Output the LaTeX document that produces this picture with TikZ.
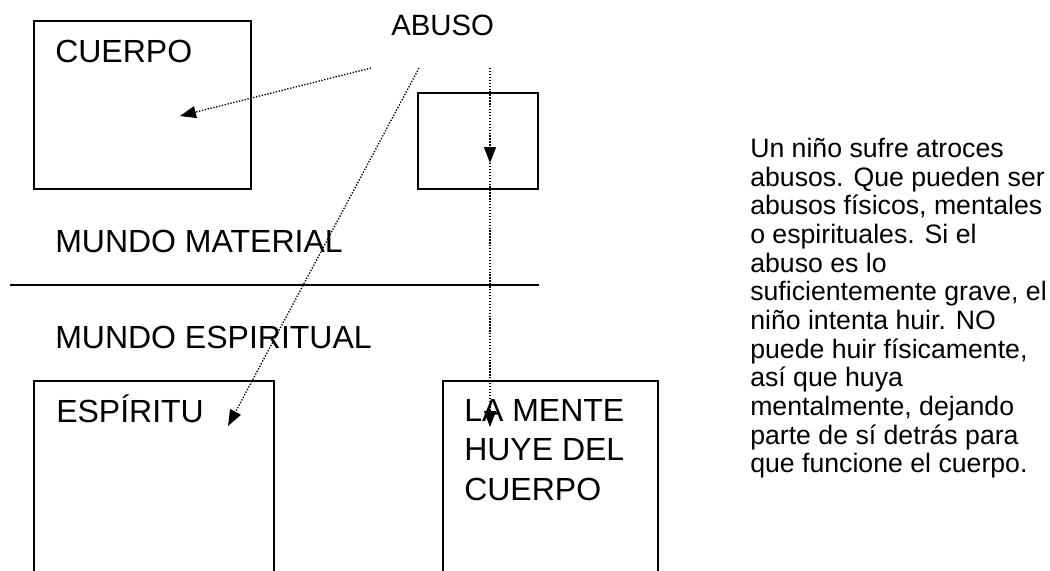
\documentclass[tikz,border=0pt]{standalone}
\usepackage{fontspec}
\setmainfont{Liberation Sans}
\usetikzlibrary{arrows.meta}

\begin{document}
\begin{tikzpicture}[x=0.75pt, y=-0.75pt,
        caja/.style={line width=1.5pt},
        flecha/.style={line width=1pt, dash pattern=on 1pt off 1.2pt, -{Triangle[length=12pt, width=9pt]}},
        titulo/.style={anchor=base west, inner sep=0pt, font=\fontsize{24}{29.5}\selectfont}]
        \useasboundingbox (0,0) rectangle (1050,571);
        \clip (0,0) rectangle (1050,571);

        % cajas
        \draw[caja] (34,21) rectangle (251,189);
        \draw[caja] (418,93) rectangle (538,189);
        \draw[caja] (34,600) -- (34,381) -- (274,381) -- (274,600);
        \draw[caja] (443,600) -- (443,381) -- (658,381) -- (658,600);
        \draw[caja] (10,285) -- (539,285);

        % textos
        \node[titulo, font=\fontsize{22}{27}\selectfont] (abuso) at (391,35) {ABUSO};
        \node[titulo] (cuerpo) at (55,62) {CUERPO};
        \node[titulo] (material) at (55,252) {MUNDO MATERIAL};
        \node[titulo] (espiritual) at (55,348) {MUNDO ESPIRITUAL};
        \node[titulo] (espiritu) at (56,422) {ESPÍRITU};
        \node[titulo, align=left] (mente) at (464,500) {LA MENTE\\HUYE DEL\\CUERPO};
        \node[anchor=north west, inner sep=0pt, align=left, font=\fontsize{20}{21.5}\selectfont] (texto) at (750,138)
            {Un niño sufre atroces\\abusos. Que pueden ser\\abusos físicos, mentales\\o espirituales. Si el\\abuso es lo\\suficientemente grave, el\\niño intenta huir. NO\\puede huir físicamente,\\así que huya\\mentalmente, dejando\\parte de sí detrás para\\que funcione el cuerpo.};

        % flechas
        \coordinate (a1) at (371,68);
        \coordinate (a2) at (419,68);
        \coordinate (a3) at (490,68);
        \coordinate (c1) at (180,116);
        \coordinate (e1) at (228,426);
        \coordinate (p1) at (490,163);
        \coordinate (m1) at (490,427);
        \draw[flecha] (a1) -- (c1);
        \draw[flecha] (a2) -- (e1);
        \draw[flecha] (a3) -- (p1);
        \draw[flecha] (p1) -- (m1);
\end{tikzpicture}
\end{document}
